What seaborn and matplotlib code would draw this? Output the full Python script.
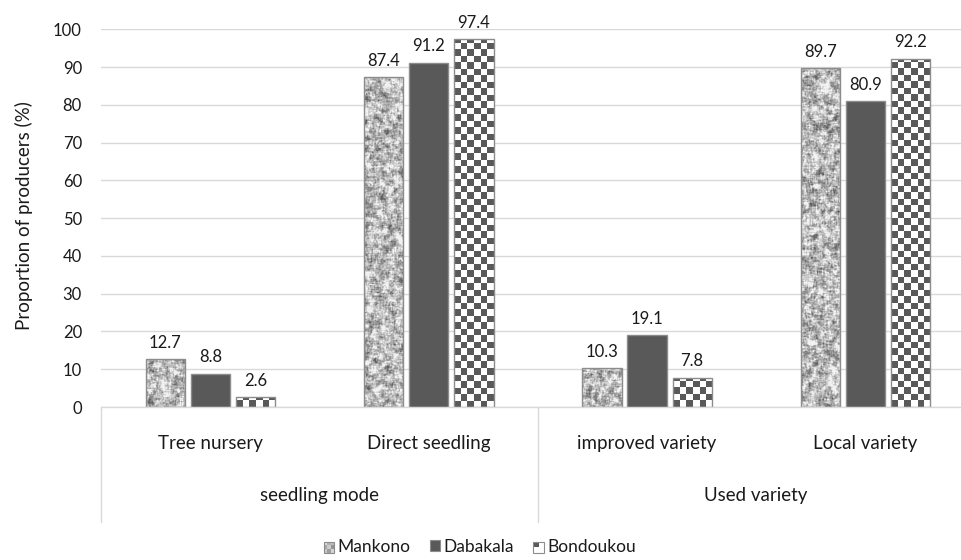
import numpy as np
import pandas as pd
import matplotlib
matplotlib.use("Agg")
import matplotlib.pyplot as plt
import matplotlib.transforms as mtransforms
from matplotlib.patches import Rectangle
from matplotlib.legend_handler import HandlerBase
import seaborn as sns

# ---- data ----
practices = ["Tree nursery", "Direct seedling", "improved variety", "Local variety"]
groups = ["seedling mode", "Used variety"]
regions = ["Mankono", "Dabakala", "Bondoukou"]
mankono = [12.7, 87.4, 10.3, 89.7]
dabakala = [8.8, 91.2, 19.1, 80.9]
bondoukou = [2.6, 97.4, 7.8, 92.2]
y_ticks = list(range(0, 101, 10))

df = pd.DataFrame({
    "practice": practices * 3,
    "region": [r for r in regions for _ in practices],
    "value": mankono + dabakala + bondoukou,
})

sns.set_theme(style="white")
plt.rcParams["font.family"] = ["Lato", "DejaVu Sans"]
TXT = "#1a1a1a"
GRID = "#d9d9d9"
DARK = "#595959"
EDGE = "#8c8c8c"
FS_NUM = 12
FS_TXT = 13.5

W, H = 961, 560
fig = plt.figure(figsize=(W / 100, H / 100), dpi=100)
ax = fig.add_axes([101.4 / W, 1 - 407 / H, (974.4 - 101.4) / W, (407 - 29.3) / H])

sns.barplot(data=df, x="practice", y="value", hue="region", order=practices,
            hue_order=regions, palette=["#b8b8b8", DARK, "#ffffff"],
            width=0.62, gap=0.13, saturation=1, edgecolor=EDGE, linewidth=1,
            legend=False, ax=ax)

ax.set_xlim(-0.5, len(practices) - 0.5)
ax.set_ylim(0, 100)
ax.set_yticks(y_ticks)
ax.yaxis.grid(True, color=GRID, lw=1)
ax.set_axisbelow(True)
for s in ["left", "right", "top"]:
    ax.spines[s].set_visible(False)
ax.spines["bottom"].set_color(GRID)
ax.spines["bottom"].set_linewidth(1)
ax.tick_params(axis="y", length=0, pad=14, labelsize=FS_NUM, labelcolor=TXT)
ax.tick_params(axis="x", length=0, labelbottom=False)
ax.set_xlabel("")
ax.set_ylabel("")

# pixel scale of data units
fig.canvas.draw()
p0 = ax.transData.transform((0, 0))
p1 = ax.transData.transform((1, 1))
px_x = p1[0] - p0[0]
px_y = p1[1] - p0[1]

rng = np.random.default_rng(7)


def smooth(a, k):
    ker = np.ones(k) / k
    a = np.apply_along_axis(lambda r: np.convolve(r, ker, mode="same"), 1, a)
    return np.apply_along_axis(lambda c: np.convolve(c, ker, mode="same"), 0, a)


def granite(hp, wp):
    pad = 8
    coarse = smooth(rng.normal(size=(hp + 2 * pad, wp + 2 * pad)), 5)
    fine = smooth(rng.normal(size=(hp + 2 * pad, wp + 2 * pad)), 2)
    n = coarse / coarse.std() + 0.6 * fine / fine.std()
    n = n[pad:-pad, pad:-pad]
    n = (n - n.mean()) / (n.std() + 1e-9)
    return np.clip(0.73 + 0.13 * n, 0.38, 0.95)


# Mankono bars: granite-like texture
for bar in ax.containers[0]:
    x0, w, h = bar.get_x(), bar.get_width(), bar.get_height()
    wp, hp = int(np.ceil(w * px_x)), max(int(np.ceil(h * px_y)), 1)
    im = ax.imshow(granite(hp, wp), cmap="gray", vmin=0, vmax=1,
                   extent=(x0, x0 + w, 0, h), aspect="auto",
                   interpolation="bilinear", zorder=2.2)
    im.set_clip_path(bar)
    bar.set_facecolor("none")
    bar.set_zorder(2.5)

# Bondoukou bars: checkerboard
sq = 6.5
for bar in ax.containers[2]:
    x0, w, h = bar.get_x(), bar.get_width(), bar.get_height()
    ncol = max(int(round(w * px_x / sq)), 1)
    sq_y = sq / px_y
    nrow = int(np.ceil(h / sq_y)) + 1
    ii, jj = np.indices((nrow, ncol))
    board = np.where((ii + jj) % 2 == 0, 0.35, 1.0)
    im = ax.imshow(board, cmap="gray", vmin=0, vmax=1,
                   extent=(x0, x0 + w, 0, nrow * sq_y), origin="lower",
                   aspect="auto", interpolation="nearest", zorder=2.2)
    im.set_clip_path(bar)
    bar.set_facecolor("none")
    bar.set_zorder(2.5)

ax.set_xlim(-0.5, len(practices) - 0.5)
ax.set_ylim(0, 100)

for cont in ax.containers:
    ax.bar_label(cont, labels=[f"{v:.1f}" for v in cont.datavalues],
                 padding=6, fontsize=FS_NUM, color=TXT)

# multi-level category axis
trans = mtransforms.blended_transform_factory(ax.transData, ax.transAxes)
ax_h = 407 - 29.3
for i, name in enumerate(practices):
    ax.text(i, -36 / ax_h, name, transform=trans, ha="center", va="center",
            fontsize=FS_TXT, color=TXT, clip_on=False)
for g, name in enumerate(groups):
    ax.text(2 * g + 0.5, -89 / ax_h, name, transform=trans, ha="center",
            va="center", fontsize=FS_TXT, color=TXT, clip_on=False)
for xv in [-0.5, 1.5, 3.5]:
    ax.plot([xv, xv], [0, -115 / ax_h], transform=trans, color=GRID, lw=1,
            clip_on=False)

fig.text(24 / W, 1 - 216 / H, "Proportion of producers (%)", rotation=90,
         ha="center", va="center", fontsize=FS_TXT, color=TXT)


# legend handles
class GraniteHandler(HandlerBase):
    def create_artists(self, legend, orig, xd, yd, width, height, fontsize, trans):
        arts = []
        tones = [0.78, 0.62, 0.84, 0.66, 0.8, 0.58, 0.86, 0.7, 0.74]
        n = 3
        for a in range(n):
            for b in range(n):
                t = tones[a * n + b]
                arts.append(Rectangle((xd + b * width / n, yd + a * height / n),
                                      width / n, height / n, facecolor=str(t),
                                      edgecolor="none", transform=trans))
        arts.append(Rectangle((xd, yd), width, height, facecolor="none",
                              edgecolor=EDGE, lw=0.8, transform=trans))
        return arts


class CheckerHandler(HandlerBase):
    def create_artists(self, legend, orig, xd, yd, width, height, fontsize, trans):
        arts = [Rectangle((xd, yd), width, height, facecolor="white",
                          edgecolor="none", transform=trans),
                Rectangle((xd, yd + height / 2), width / 2, height / 2,
                          facecolor=DARK, edgecolor="none", transform=trans),
                Rectangle((xd, yd), width, height, facecolor="none",
                          edgecolor=EDGE, lw=0.8, transform=trans)]
        return arts


h_m = Rectangle((0, 0), 1, 1)
h_d = Rectangle((0, 0), 1, 1, facecolor=DARK, edgecolor=EDGE, lw=0.8)
h_b = Rectangle((0, 0), 1, 1)
fig.legend([h_m, h_d, h_b], regions, loc="center",
           bbox_to_anchor=(480 / W, 1 - 547 / H), ncol=3, frameon=False,
           fontsize=12.5, handlelength=0.6, handleheight=0.6, handletextpad=0.2,
           columnspacing=1.1, labelcolor=TXT,
           handler_map={h_m: GraniteHandler(), h_b: CheckerHandler()})

fig.savefig("out.png", dpi=100)
